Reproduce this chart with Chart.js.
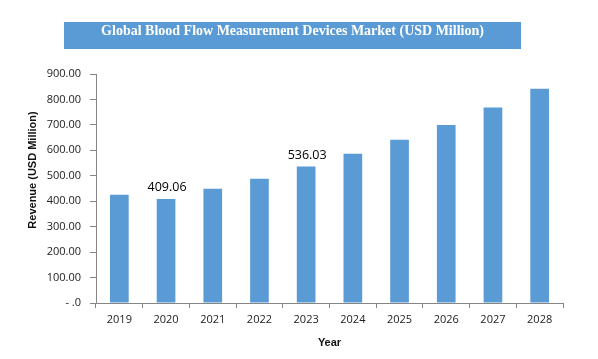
<!DOCTYPE html>
<html>
<head>
<meta charset="utf-8">
<script src="https://cdn.jsdelivr.net/npm/chart.js@4.4.1/dist/chart.umd.min.js"></script>
<style>
    html, body { margin: 0; padding: 0; background: #fff; }
    #wrap { width: 598px; height: 359px; position: relative; }
</style>
</head>
<body>
<div id="wrap"><canvas id="chart"></canvas></div>
<script>
const years = ['2019', '2020', '2021', '2022', '2023', '2024', '2025', '2026', '2027', '2028'];
const revenue = [425, 409.06, 449, 488, 536.03, 587, 642, 700, 768, 842];
const labelledYears = ['2020', '2023'];
const titleText = 'Global Blood Flow Measurement Devices Market (USD Million)';
const yTitle = 'Revenue (USD Million)';

const barColor = '#5B9BD5';
const axisColor = '#868686';

// blue title banner above the plot
const titleBox = {
    id: 'titleBox',
    beforeDraw(chart) {
        const ctx = chart.ctx;
        ctx.save();
        ctx.fillStyle = '#fff';
        ctx.fillRect(0, 0, chart.width, chart.height);
        ctx.fillStyle = barColor;
        ctx.fillRect(64, 22, 457, 27);
        ctx.fillStyle = '#fff';
        ctx.font = 'bold 14px "Liberation Serif", serif';
        ctx.textAlign = 'center';
        ctx.textBaseline = 'middle';
        ctx.fillText(titleText, 292.5, 31.5);
        ctx.restore();
    }
};

// value labels over a couple of bars + rotated y title (sits a bit above centre, like excel did)
const valueLabels = {
    id: 'valueLabels',
    afterDatasetsDraw(chart) {
        const ctx = chart.ctx;
        const meta = chart.getDatasetMeta(0);
        ctx.save();
        ctx.fillStyle = '#000';
        ctx.font = '12.5px "Open Sans", sans-serif';
        ctx.textAlign = 'center';
        ctx.textBaseline = 'bottom';
        meta.data.forEach((bar, i) => {
            if (!labelledYears.includes(years[i])) return;
            ctx.fillText(revenue[i].toFixed(2), bar.x + 1, bar.y - 5);
        });
        ctx.restore();

        ctx.save();
        ctx.translate(33, 170);
        ctx.rotate(-Math.PI / 2);
        ctx.fillStyle = '#111';
        ctx.font = 'bold 11px "Liberation Sans", sans-serif';
        ctx.textAlign = 'center';
        ctx.textBaseline = 'middle';
        ctx.fillText(yTitle, 0, 0);
        ctx.restore();
    }
};

new Chart(document.getElementById('chart'), {
    type: 'bar',
    data: {
        labels: years,
        datasets: [{
            data: revenue,
            backgroundColor: barColor,
            barPercentage: 0.4,
            categoryPercentage: 1
        }]
    },
    options: {
        responsive: true,
        maintainAspectRatio: false,
        animation: false,
        layout: { padding: { top: 74, right: 35, bottom: 0, left: 0 } },
        plugins: {
            legend: { display: false },
            tooltip: { enabled: false }
        },
        scales: {
            x: {
                afterFit(scale) { scale.height = 56; },
                grid: {
                    offset: true,
                    drawOnChartArea: false,
                    drawTicks: true,
                    tickLength: 5,
                    color: axisColor
                },
                border: { color: axisColor },
                ticks: {
                    color: '#222',
                    padding: 5,
                    font: { family: 'Open Sans', size: 11 }
                },
                title: {
                    display: true,
                    text: 'Year',
                    color: '#111',
                    padding: { top: 0, bottom: 9 },
                    font: { family: 'Liberation Sans', size: 11, weight: 'bold' }
                }
            },
            y: {
                min: 0,
                max: 900,
                afterFit(scale) { scale.width = 96; },
                grid: {
                    drawOnChartArea: false,
                    drawTicks: true,
                    tickLength: 6,
                    color: axisColor
                },
                border: { color: axisColor },
                ticks: {
                    stepSize: 100,
                    color: '#222',
                    padding: 9,
                    font: { family: 'Open Sans', size: 11 },
                    callback: v => v === 0 ? '- .0' : v.toFixed(2)
                },
                title: { display: false }
            }
        }
    },
    plugins: [titleBox, valueLabels]
});
</script>
</body>
</html>
